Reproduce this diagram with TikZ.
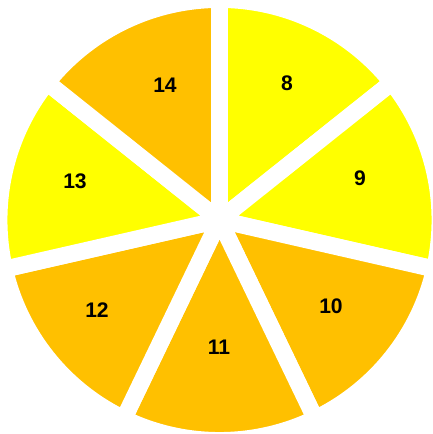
\documentclass[tikz,border=0pt]{standalone}
\usepackage{fontspec}
\setmainfont{Liberation Sans}
\definecolor{pieyellow}{HTML}{FFFF00}
\definecolor{pieorange}{HTML}{FFC000}

\begin{document}
\begin{tikzpicture}[x=0.02cm, y=0.02cm,
    slice/.style={draw=white, line width=9.6pt, line join=miter},
    num/.style={font=\fontsize{12}{14}\selectfont\bfseries}]
    \useasboundingbox (0,0) rectangle (433,434);
    \coordinate (O) at (219.5,214);

    % seven equal slices, clockwise from the top
    \foreach \a/\col [count=\k] in {90/pieyellow, 38.571/pieyellow, -12.857/pieorange,
            -64.286/pieorange, -115.714/pieorange, -167.143/pieyellow, -218.571/pieorange}
        \filldraw[slice, fill=\col] (O) -- ++(\a:220.5) arc[start angle=\a, delta angle=-51.429, radius=220.5] -- cycle;

    \node[num] (s8)  at (287,351) {8};
    \node[num] (s9)  at (360,256) {9};
    \node[num] (s10) at (331,128) {10};
    \node[num] (s11) at (219,87)  {11};
    \node[num] (s12) at (97,124)  {12};
    \node[num] (s13) at (75,253)  {13};
    \node[num] (s14) at (165,349) {14};
\end{tikzpicture}
\end{document}
